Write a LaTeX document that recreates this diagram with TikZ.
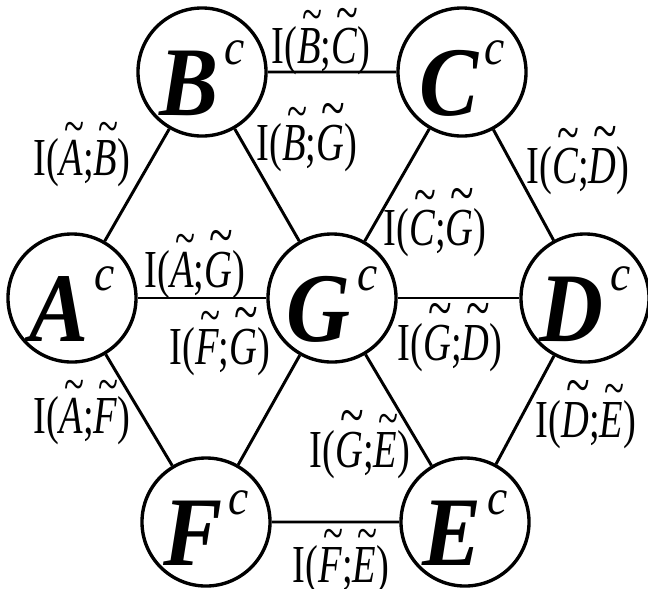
\documentclass[tikz,border=0pt]{standalone}
\usepackage{graphicx}
\usepackage{fontspec}
\setmainfont{Liberation Serif}
\usetikzlibrary{positioning}
\tikzset{
  vertex/.style={draw, circle, line width=2.4pt, minimum size=3.2cm, inner sep=0pt},
  info/.style={inner sep=0pt, font=\fontsize{38}{40}\selectfont},
  link/.style={line width=2.1pt},
}
\newsavebox{\tlbox}
\newcommand{\tl}[1]{\sbox{\tlbox}{\itshape #1}%
  \leavevmode\rlap{\hbox to\wd\tlbox{\hss\kern0.16em\raisebox{0.6em}{\resizebox{0.85\wd\tlbox}{!}{\textasciitilde}}\hss}}%
  \usebox{\tlbox}}
\newcommand{\mutual}[2]{\scalebox{0.72}[1]{I(\tl{#1};\tl{#2})}}
\newcommand{\setc}[1]{\scalebox{0.9}[1]{{\fontsize{70}{72}\selectfont\bfseries\itshape #1}\hspace{5pt}%
  \raisebox{36pt}{\fontsize{36}{38}\selectfont\itshape c}}\rule{0pt}{62pt}}

\begin{document}
\begin{tikzpicture}[x=0.025cm, y=-0.025cm]
    \useasboundingbox (0,0) rectangle (648,588);
    % the seven sets
    \node[vertex] (A) at (72,298)  {\setc{A}};
    \node[vertex] (B) at (202,72)  {\setc{B}};
    \node[vertex] (C) at (462,72)  {\setc{C}};
    \node[vertex] (D) at (585,298) {\setc{D}};
    \node[vertex] (E) at (465,522) {\setc{E}};
    \node[vertex] (F) at (206,522) {\setc{F}};
    \node[vertex] (G) at (332,298) {\setc{G}};
    % outer ring and spokes
    \draw[link] (A) -- (B) -- (C) -- (D) -- (E) -- (F) -- (A);
    \foreach \s in {A,B,C,D,E,F}
      \draw[link] (G) -- (\s);
    % mutual information labels
    \node[info] (lBC) at (321,42)  {\mutual{B}{C}};
    \node[info] (lBG) at (307,138) {\mutual{B}{G}};
    \node[info] (lAB) at (82,155)  {\mutual{A}{B}};
    \node[info] (lAG) at (195,265) {\mutual{A}{G}};
    \node[info] (lFG) at (220,342) {\mutual{F}{G}};
    \node[info] (lCG) at (435,223) {\mutual{C}{G}};
    \node[info] (lGD) at (450,338) {\mutual{G}{D}};
    \node[info] (lCD) at (578,161) {\mutual{C}{D}};
    \node[info] (lAF) at (82,413)  {\mutual{A}{F}};
    \node[info] (lGE) at (360,445) {\mutual{G}{E}};
    \node[info] (lDE) at (586,415) {\mutual{D}{E}};
    \node[info] (lFE) at (341,562) {\mutual{F}{E}};
\end{tikzpicture}
\end{document}
